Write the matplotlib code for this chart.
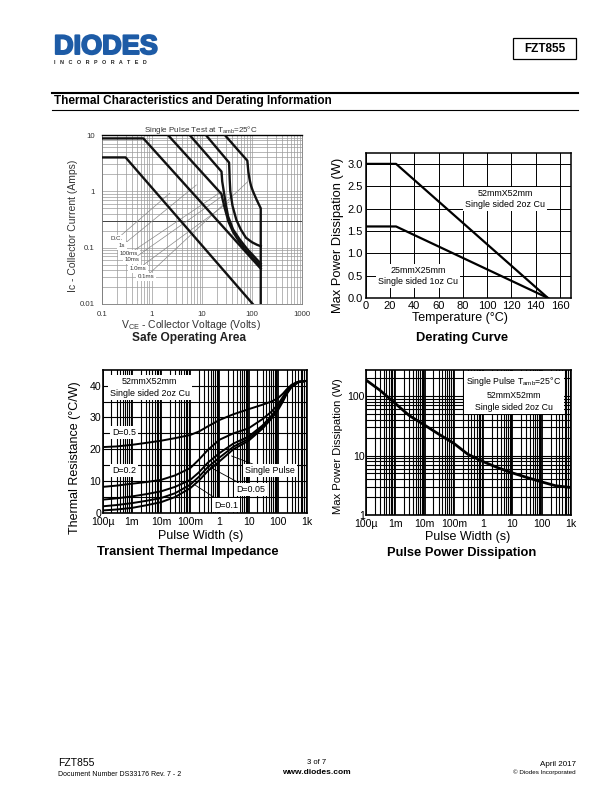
import numpy as np
import matplotlib
matplotlib.use('Agg')
import matplotlib.pyplot as plt
import matplotlib.patheffects as pe
from matplotlib.lines import Line2D
from matplotlib.patches import Rectangle
from matplotlib.ticker import FixedLocator, NullFormatter

plt.rcParams['font.family'] = ['Liberation Sans', 'DejaVu Sans']
plt.rcParams['mathtext.default'] = 'regular'

W, H = 612, 792

# safe operating area, (V, I)
dc_v = [0.1, 0.3, 104]
dc_i = [4, 4, 0.01]
s1_v = [0.1, 0.68, 150]
s1_i = [8.7, 8.7, 0.0425]
ms100_v = [2.1, 24.6, 26, 28.7, 34, 42, 55, 75, 105, 150]
ms100_i = [10, 0.90, 0.72, 0.50, 0.29, 0.19, 0.13, 0.09, 0.065, 0.047]
ms10_v = [5.7, 24.7, 25.5, 27.4, 30, 33.4, 42, 57, 80, 110, 150]
ms10_i = [10, 2.24, 1.5, 1.0, 0.6, 0.36, 0.21, 0.14, 0.095, 0.07, 0.052]
ms1_v = [12, 35, 36, 37, 41, 49, 60, 76, 100, 125, 150]
ms1_i = [10, 3.24, 1.6, 1.0, 0.55, 0.31, 0.21, 0.15, 0.125, 0.113, 0.106]
ms01_v = [28.7, 81, 85, 90, 96, 105, 125, 150, 150]
ms01_i = [10, 3.5, 2.2, 1.6, 1.25, 1.0, 0.7, 0.5, 0.01]
soa_curves = [(dc_v, dc_i), (s1_v, s1_i), (ms100_v, ms100_i), (ms10_v, ms10_i), (ms1_v, ms1_i), (ms01_v, ms01_i)]
soa_labels = ['D.C.', '1s', '100ms', '10ms', '1.0ms', '0.1ms']
soa_label_v = [0.202, 0.254, 0.35, 0.402, 0.53, 0.764]
soa_label_i = [0.143, 0.108, 0.0776, 0.0608, 0.042, 0.0303]
soa_lead_end_v = [2.3, 7.8, 24.6, 27, 35, 83]
soa_lead_end_i = [0.93, 1.3, 0.99, 0.85, 0.65, 1.49]

# derating curve
temp_2oz = [0, 25, 150]
pow_2oz = [3.0, 3.0, 0]
temp_1oz = [0, 25, 150]
pow_1oz = [1.6, 1.6, 0]

# transient thermal impedance
pulse_t = [1e-4, 3e-4, 1e-3, 3e-3, 1e-2, 3e-2, 1e-1, 2e-1, 4e-1, 1, 3, 10, 30, 60, 100, 150, 200, 300, 500, 1000]
d05 = [20.7, 20.9, 21.4, 22.0, 22.7, 23.5, 24.5, 25.6, 27.2, 29.2, 31.0, 32.6, 34.0, 35.0, 36.0, 37.5, 38.8, 40.3, 41.2, 41.5]
d02 = [8.2, 8.6, 9.2, 9.7, 10.4, 11.8, 14.1, 16.8, 19.8, 23.0, 25.0, 26.6, 29.5, 31.8, 34.0, 36.5, 38.3, 40.2, 41.2, 41.5]
d01 = [4.2, 4.6, 5.2, 5.9, 6.8, 8.2, 10.4, 12.8, 15.8, 18.8, 21.8, 24.0, 27.5, 30.5, 33.0, 35.8, 37.9, 40.0, 41.2, 41.5]
d005 = [2.1, 2.5, 3.1, 3.8, 4.7, 6.2, 8.9, 11.4, 14.4, 17.4, 20.8, 23.3, 27.0, 30.0, 32.6, 35.4, 37.6, 39.8, 41.1, 41.5]
single = [0.8, 1.1, 1.6, 2.4, 3.4, 5.0, 7.8, 10.2, 13.2, 16.2, 20.0, 22.7, 26.5, 29.6, 32.2, 35.0, 37.3, 39.6, 41.0, 41.5]
zth_curves = [d05, d02, d01, d005, single]

# pulse power
pp_t = [1e-4, 3e-4, 1e-3, 3e-3, 1e-2, 3e-2, 1e-1, 3e-1, 1, 3, 10, 30, 100, 300, 1000]
pp_w = [186, 125, 75, 47, 32.5, 23, 16, 10.5, 7.9, 6.3, 5.1, 4.3, 3.6, 3.1, 2.9]

soa_ticks = [0.1, 1, 10, 100, 1000]
soa_ticklabels = ['0.1', '1', '10', '100', '1000']
soa_yticks = [0.01, 0.1, 1, 10]
soa_yticklabels = ['0.01', '0.1', '1', '10']
pw_ticks = [1e-4, 1e-3, 1e-2, 1e-1, 1, 10, 100, 1000]
pw_ticklabels = ['100µ', '1m', '10m', '100m', '1', '10', '100', '1k']


def log_minors(lo, hi):
    out = []
    for e in range(lo, hi):
        for m in range(2, 10):
            out.append(m * 10.0 ** e)
    return out


def make_axes(l, t, r, b):
    return fig.add_axes([l / W, 1 - b / H, (r - l) / W, (b - t) / H])


def px_text(x, y, s, **kw):
    kw.setdefault('ha', 'left')
    kw.setdefault('va', 'center')
    return fig.text(x / W, 1 - y / H, s, **kw)


fig = plt.figure(figsize=(W / 100, H / 100), dpi=100, facecolor='white')

# page furniture
px_text(54, 47, 'DIODES', fontsize=19.5, fontweight='bold', color='#1d5ba6',
        path_effects=[pe.withStroke(linewidth=1.4, foreground='#1d5ba6')])
px_text(54, 62, 'I   N   C   O   R   P   O   R   A   T   E   D', fontsize=3.9, color='#222222', fontweight='bold')
fig.add_artist(Rectangle((513 / W, 1 - 59.3 / H), 62.7 / W, 21 / H, transform=fig.transFigure,
                         fill=False, ec='black', lw=0.9))
px_text(544.5, 49, 'FZT855', fontsize=8.5, fontweight='bold', ha='center')
fig.add_artist(Line2D([52 / W, 577.7 / W], [1 - 93 / H] * 2, color='black', lw=1.5))
fig.add_artist(Line2D([52 / W, 577.7 / W], [1 - 110 / H] * 2, color='black', lw=0.8))
px_text(54, 101, 'Thermal Characteristics and Derating Information', fontsize=8.5, fontweight='bold')
px_text(58, 763, 'FZT855', fontsize=7.5)
px_text(58, 774, 'Document Number DS33176 Rev. 7 - 2', fontsize=5)
px_text(316.7, 763, '3 of 7', fontsize=5.5, ha='center')
px_text(316.7, 772, 'www.diodes.com', fontsize=6, fontweight='bold', ha='center')
px_text(576, 764, 'April 2017', fontsize=5.8, ha='right')
px_text(576, 772, '© Diodes Incorporated', fontsize=4.5, ha='right')

# safe operating area
ax = make_axes(101.7, 135, 302, 304)
ax.set_xscale('log')
ax.set_yscale('log')
ax.set_xlim(0.1, 1000)
ax.set_ylim(0.01, 10)
ax.xaxis.set_major_locator(FixedLocator(soa_ticks))
ax.xaxis.set_minor_locator(FixedLocator(log_minors(-1, 3)))
ax.yaxis.set_major_locator(FixedLocator(soa_yticks))
ax.yaxis.set_minor_locator(FixedLocator(log_minors(-2, 1)))
ax.xaxis.set_minor_formatter(NullFormatter())
ax.yaxis.set_minor_formatter(NullFormatter())
ax.set_xticklabels(soa_ticklabels)
ax.set_yticklabels(soa_yticklabels)
ax.grid(True, which='both', color='#9a9a9a', lw=0.5)
ax.axhline(0.3, color='#444444', lw=0.7, zorder=1)
ax.tick_params(which='both', length=0, labelsize=5.6, labelcolor='#333333', pad=5)
for s in ax.spines.values():
    s.set_color('#777777')
    s.set_linewidth(0.6)
ax.spines['top'].set_color('black')
ax.spines['top'].set_linewidth(1.0)
ax.set_axisbelow(True)
for v, i in soa_curves:
    ax.plot(v, i, color='#111111', lw=1.7, zorder=4, solid_joinstyle='round')
for k in range(6):
    ax.annotate(soa_labels[k], xy=(soa_lead_end_v[k], soa_lead_end_i[k]),
                xytext=(soa_label_v[k], soa_label_i[k]), fontsize=4.4, color='#333333',
                ha='center', va='center', zorder=3,
                bbox=dict(fc='white', ec='none', pad=1.0),
                arrowprops=dict(arrowstyle='-', color='#888888', lw=0.5, shrinkA=0, shrinkB=0))
px_text(200.5, 130, 'Single Pulse Test at T$_{amb}$=25°C', fontsize=5.8, color='#333333', ha='center')
px_text(191, 325, 'V$_{CE}$ - Collector Voltage (Volts)', fontsize=7.5, ha='center', color='#333333')
px_text(189, 338, 'Safe Operating Area', fontsize=8.6, fontweight='bold', ha='center', color='#222222')
px_text(73, 226, 'Ic - Collector Current (Amps)', fontsize=7.5, rotation=90, ha='center', color='#333333')

# derating curve
ax = make_axes(365.7, 152.7, 571, 298)
ax.set_xlim(0, 169)
ax.set_ylim(0, 3.25)
ax.set_xticks(np.arange(0, 170, 20))
ax.set_yticks(np.arange(0, 3.1, 0.5))
ax.set_yticklabels(['0.0', '0.5', '1.0', '1.5', '2.0', '2.5', '3.0'])
ax.grid(True, color='black', lw=0.7)
ax.set_axisbelow(True)
ax.tick_params(length=0, labelsize=8, pad=2)
for s in ax.spines.values():
    s.set_linewidth(1.1)
ax.plot(temp_2oz, pow_2oz, color='black', lw=1.6, zorder=4)
ax.plot(temp_1oz, pow_1oz, color='black', lw=1.6, zorder=4)
ax.text(115, 2.21, '52mmX52mm\nSingle sided 2oz Cu', fontsize=6.4, ha='center', va='center', linespacing=1.25,
        bbox=dict(fc='white', ec='none', pad=1.5), zorder=3)
ax.text(43, 0.50, '25mmX25mm\nSingle sided 1oz Cu', fontsize=6.4, ha='center', va='center', linespacing=1.25,
        bbox=dict(fc='white', ec='none', pad=1.5), zorder=3)
px_text(460, 318.5, 'Temperature (°C)', fontsize=9, ha='center')
px_text(462, 338, 'Derating Curve', fontsize=9.3, fontweight='bold', ha='center')
px_text(338, 235, 'Max Power Dissipation (W)', fontsize=9.3, rotation=90, ha='center')

# transient thermal impedance
ax = make_axes(102.7, 370, 307, 513)
ax.set_xscale('log')
ax.set_xlim(1e-4, 1e3)
ax.set_ylim(0, 44.9)
ax.xaxis.set_major_locator(FixedLocator(pw_ticks))
ax.xaxis.set_minor_locator(FixedLocator(log_minors(-4, 3)))
ax.xaxis.set_minor_formatter(NullFormatter())
ax.set_xticklabels(pw_ticklabels)
ax.set_yticks([0, 10, 20, 30, 40])
ax.yaxis.set_minor_locator(FixedLocator([5, 15, 25, 35]))
ax.grid(True, which='both', color='black', lw=0.8)
ax.xaxis.grid(True, which='major', color='black', lw=1.3)
ax.set_axisbelow(True)
ax.tick_params(which='both', length=0, labelsize=7.6)
ax.tick_params(axis='x', pad=3)
ax.tick_params(axis='y', pad=1)
for s in ax.spines.values():
    s.set_linewidth(1.2)
for c in zth_curves:
    ax.plot(pulse_t, c, color='black', lw=1.4, zorder=4)
zth_box = dict(fc='white', ec='none', pad=1.5)
lead = dict(arrowstyle='-', color='black', lw=0.6, shrinkA=0, shrinkB=0)
ax.text(4.1e-3, 39.4, '52mmX52mm\nSingle sided 2oz Cu', fontsize=6.4, ha='center', va='center', linespacing=1.35,
        bbox=zth_box, zorder=3)
ax.text(5.4e-4, 25.4, 'D=0.5', fontsize=6.4, ha='center', va='center', bbox=zth_box, zorder=3)
ax.text(5.4e-4, 13.3, 'D=0.2', fontsize=6.4, ha='center', va='center', bbox=zth_box, zorder=3)
ax.annotate('Single Pulse', xy=(2.6, 17.9), xytext=(54, 13.3), fontsize=6.4, ha='center', va='center',
            bbox=zth_box, zorder=5, arrowprops=lead)
ax.annotate('D=0.05', xy=(0.36, 15), xytext=(11.7, 7.5), fontsize=6.4, ha='center', va='center',
            bbox=zth_box, zorder=5, arrowprops=lead)
ax.annotate('D=0.1', xy=(0.145, 8.8), xytext=(1.67, 2.5), fontsize=6.4, ha='center', va='center',
            bbox=zth_box, zorder=5, arrowprops=lead)
px_text(201, 536, 'Pulse Width (s)', fontsize=9, ha='center')
px_text(188, 552, 'Transient Thermal Impedance', fontsize=9.3, fontweight='bold', ha='center')
px_text(75, 458, 'Thermal Resistance (°C/W)', fontsize=9, rotation=90, ha='center')

# pulse power dissipation
ax = make_axes(366, 370, 571, 515)
ax.set_xscale('log')
ax.set_yscale('log')
ax.set_xlim(1e-4, 1e3)
ax.set_ylim(1, 274)
ax.xaxis.set_major_locator(FixedLocator(pw_ticks))
ax.xaxis.set_minor_locator(FixedLocator(log_minors(-4, 3)))
ax.xaxis.set_minor_formatter(NullFormatter())
ax.set_xticklabels(pw_ticklabels)
ax.yaxis.set_major_locator(FixedLocator([1, 10, 100]))
ax.yaxis.set_minor_locator(FixedLocator(log_minors(0, 2) + [200]))
ax.yaxis.set_minor_formatter(NullFormatter())
ax.set_yticklabels(['1', '10', '100'])
ax.grid(True, which='both', color='black', lw=0.8)
ax.xaxis.grid(True, which='major', color='black', lw=1.3)
ax.set_axisbelow(True)
ax.tick_params(which='both', length=0, labelsize=7.6)
ax.tick_params(axis='x', pad=3)
ax.tick_params(axis='y', pad=1)
for s in ax.spines.values():
    s.set_linewidth(1.2)
ax.plot(pp_t, pp_w, color='black', lw=2.0, zorder=4)
ax.text(0.722, 0.84, 'Single Pulse T$_{amb}$=25°C\n52mmX52mm\nSingle sided 2oz Cu', transform=ax.transAxes,
        fontsize=6.3, ha='center', va='center', linespacing=1.4,
        bbox=dict(fc='white', ec='none', pad=1.5), zorder=3)
px_text(468, 537, 'Pulse Width (s)', fontsize=9, ha='center')
px_text(462, 553, 'Pulse Power Dissipation', fontsize=9.3, fontweight='bold', ha='center')
px_text(338, 446, 'Max Power Dissipation (W)', fontsize=8.1, rotation=90, ha='center')

fig.savefig('out.png', dpi=100)
